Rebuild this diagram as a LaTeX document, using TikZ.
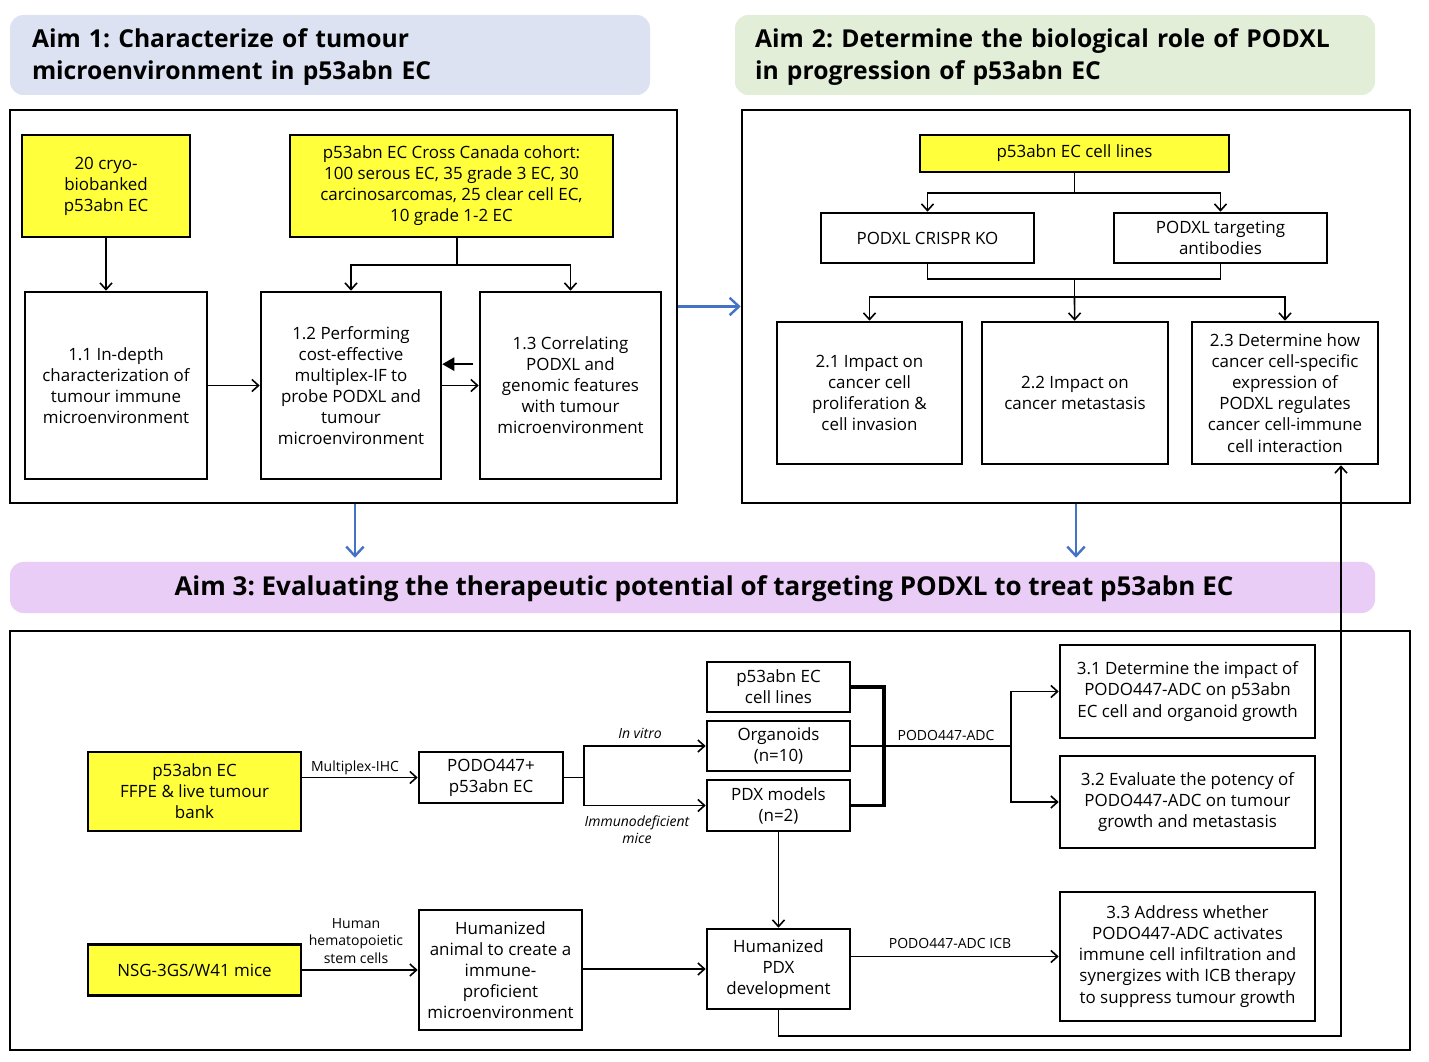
\documentclass[tikz,border=0pt]{standalone}
\usepackage{fontspec}
\setmainfont{Open Sans}
\usetikzlibrary{arrows.meta}
\definecolor{ylw}{HTML}{FFFF3C}
\definecolor{hdrblue}{HTML}{DCE2F2}
\definecolor{hdrgreen}{HTML}{E3EED9}
\definecolor{aimpurple}{HTML}{EACDF6}
\definecolor{arrblue}{HTML}{4472C4}
\frenchspacing
\begin{document}
\begin{tikzpicture}[x=0.75pt,y=-0.75pt,
  box/.style={draw, line width=1.9pt, fill=white, align=center, inner sep=0pt, font=\fontsize{12.7}{15.8}\selectfont},
  ybox/.style={box, fill=ylw},
  frame/.style={draw, line width=1.9pt, inner sep=0pt},
  hdr/.style={rounded corners=10pt, inner ysep=0pt, align=left, font=\fontsize{18.5}{24}\selectfont\bfseries},
  conn/.style={line width=1.2pt},
  arr/.style={conn, -{Straight Barb[length=5pt,width=9pt]}},
  backarr/.style={conn, -{Triangle[length=9pt,width=10pt]}},
  lbl/.style={font=\fontsize{10.5}{13}\selectfont, inner sep=1pt, align=center},
  ilbl/.style={font=\fontsize{10.5}{13}\selectfont\itshape, inner sep=1pt, align=center},
  bluearr/.style={draw=arrblue, line width=1.8pt, -{Straight Barb[length=7pt,width=13pt]}},
  thickline/.style={line width=2.4pt}
]
\useasboundingbox (0,0) rectangle (1429,1062);

% headers
\node[hdr, fill=hdrblue, minimum width=640*.75pt, minimum height=80*.75pt, text width=596*.75pt, inner xsep=22*.75pt] (aim1) at (330,55) {\strut Aim 1: Characterize of tumour\\microenvironment in p53abn EC};
\node[hdr, fill=hdrgreen, minimum width=640*.75pt, minimum height=80*.75pt, text width=600*.75pt, inner xsep=20*.75pt] (aim2) at (1055,55) {\strut Aim 2: Determine the biological role of PODXL\\in progression of p53abn EC};

% frames
\node[frame, minimum width=667*.75pt, minimum height=393*.75pt] (f1) at (343.5,306.5) {};
\node[frame, minimum width=668*.75pt, minimum height=393*.75pt] (f2) at (1076,306.5) {};
\node[frame, minimum width=1400*.75pt, minimum height=419*.75pt] (f3) at (710,840.5) {};

% aim 3 banner
\node[fill=aimpurple, rounded corners=10pt, minimum width=1365*.75pt, minimum height=51*.75pt, inner sep=0pt] (aim3) at (692.5,587.5) {};
\node[font=\fontsize{19.5}{24}\selectfont\bfseries, inner sep=0pt] (aim3t) at (704,589) {Aim 3: Evaluating the therapeutic potential of targeting PODXL to treat p53abn EC};

% ---- Aim 1 contents
\node[ybox, minimum width=168*.75pt, minimum height=102*.75pt] (cryo) at (106,186) {20 cryo-\\biobanked\\p53abn EC};
\node[ybox, minimum width=323*.75pt, minimum height=102*.75pt] (cohort) at (451.5,186) {p53abn EC Cross Canada cohort:\\100 serous EC, 35 grade 3 EC, 30\\carcinosarcomas, 25 clear cell EC,\\10 grade 1-2 EC};
\node[box, minimum width=182*.75pt, minimum height=187*.75pt] (b11) at (116,385.5) {1.1 In-depth\\characterization of\\tumour immune\\microenvironment};
\node[box, minimum width=180*.75pt, minimum height=187*.75pt] (b12) at (351,385.5) {1.2 Performing\\cost-effective\\multiplex-IF to\\probe PODXL and\\tumour\\microenvironment};
\node[box, minimum width=181*.75pt, minimum height=187*.75pt] (b13) at (570.5,385.5) {1.3 Correlating\\PODXL and\\genomic features\\with tumour\\microenvironment};

\draw[arr] (cryo.south) -- (cryo.south |- b11.north);
\coordinate (j1) at (457,265);
\draw[conn] (cohort.south -| j1) -- (j1);
\draw[arr] (j1) -| (b12);
\draw[arr] (j1) -| (b13);
\draw[arr] (b11.east) -- (b12.west);
\draw[arr] (b12.east) -- (b13.west);
\draw[backarr] ([yshift=16pt, xshift=-4pt]b13.west) -- ([yshift=16pt]b12.east);

% ---- Aim 2 contents
\node[ybox, minimum width=309*.75pt, minimum height=37*.75pt] (cl) at (1074.5,153.5) {p53abn EC cell lines};
\node[box, minimum width=213*.75pt, minimum height=50*.75pt] (crispr) at (927.5,238) {PODXL CRISPR KO};
\node[box, minimum width=213*.75pt, minimum height=50*.75pt] (abs) at (1220.5,238) {PODXL targeting\\antibodies};
\node[box, minimum width=185*.75pt, minimum height=142*.75pt] (b21) at (869.5,393) {2.1 Impact on\\cancer cell\\proliferation \&\\cell invasion};
\node[box, minimum width=186*.75pt, minimum height=142*.75pt] (b22) at (1075,393) {2.2 Impact on\\cancer metastasis};
\node[box, minimum width=186*.75pt, minimum height=142*.75pt] (b23) at (1285,393) {2.3 Determine how\\cancer cell-specific\\expression of\\PODXL regulates\\cancer cell-immune\\cell interaction};

\coordinate (j2) at (1074.5,193);
\coordinate (j3) at (1074.5,279);
\coordinate (j4) at (1074.5,297);
\draw[conn] (cl.south) -- (j2);
\draw[arr] (j2) -| (crispr);
\draw[arr] (j2) -| (abs);
\draw[conn] (crispr.south) |- (j3) -| (abs.south);
\draw[conn] (j3) -- (j4);
\draw[arr] (j4) -| (b21);
\draw[arr] (j4) -| (b23);
\draw[arr] (j4) -- (b22);

% blue arrows
\draw[bluearr] (f1.east) -- (f2.west);
\draw[bluearr, shorten >=3pt] ([xshift=8.6pt]f1.south) -- ([xshift=8.6pt]f1.south |- aim3.north);
\draw[bluearr, shorten >=3pt] (f2.south) -- (f2.south |- aim3.north);

% ---- Aim 3 contents
\node[ybox, minimum width=213*.75pt, minimum height=79*.75pt] (ffpe) at (194.5,791.5) {p53abn EC\\FFPE \& live tumour\\bank};
\node[box, minimum width=144*.75pt, minimum height=51*.75pt] (podo) at (491,777.5) {PODO447+\\p53abn EC};
\node[box, minimum width=143*.75pt, minimum height=50*.75pt] (cells) at (778.5,687) {p53abn EC\\cell lines};
\node[box, minimum width=143*.75pt, minimum height=50*.75pt] (org) at (778.5,746) {Organoids\\(n=10)};
\node[box, minimum width=143*.75pt, minimum height=51*.75pt] (pdx) at (778.5,805.5) {PDX models\\(n=2)};
\node[box, minimum width=255*.75pt, minimum height=93*.75pt] (b31) at (1187.5,691.5) {3.1 Determine the impact of\\PODO447-ADC on p53abn\\EC cell and organoid growth};
\node[box, minimum width=255*.75pt, minimum height=92*.75pt] (b32) at (1187.5,802) {3.2 Evaluate the potency of\\PODO447-ADC on tumour\\growth and metastasis};
\node[box, minimum width=255*.75pt, minimum height=129*.75pt] (b33) at (1187.5,956.5) {3.3 Address whether\\PODO447-ADC activates\\immune cell infiltration and\\synergizes with ICB therapy\\to suppress tumour growth};
\node[ybox, minimum width=213*.75pt, minimum height=51*.75pt] (nsg) at (194.5,970) {NSG-3GS/W41 mice};
\node[box, minimum width=163*.75pt, minimum height=120*.75pt] (hum) at (500.5,970) {Humanized\\animal to create a\\immune-\\proficient\\microenvironment};
\node[box, minimum width=143*.75pt, minimum height=80*.75pt] (hpdx) at (778.5,969) {Humanized\\PDX\\development};

\draw[arr] (ffpe.east |- podo.west) -- (podo.west);
\node[lbl] (lmihc) at (355,768) {Multiplex-IHC};
\coordinate (j5) at (584,777.5);
\draw[conn] (podo.east) -- (j5);
\draw[arr] (j5) |- (org.west);
\draw[arr] (j5) |- (pdx.west);
\node[ilbl] (lvitro) at (640,733) {In vitro};
\node[ilbl] (limmu) at (637,830) {Immunodeficient\\mice};

\coordinate (j6) at (884,746);
\draw[thickline] (cells.east) -| (j6) |- (pdx.east);
\coordinate (j7) at (1011,746);
\draw[conn] (org.east) -- (j7);
\node[lbl] (ladc) at (946,735) {PODO447-ADC};
\draw[arr] (j7) |- (b31.west);
\draw[arr] (j7) |- (b32.west);

\draw[arr] (nsg.east) -- (hum.west);
\node[lbl] (lhsc) at (356,941) {Human\\hematopoietic\\stem cells};
\draw[arr] (hum.east |- hpdx.west) -- (hpdx.west);
\draw[arr] (pdx.south) -- (hpdx.north);
\draw[arr] (hpdx.east |- b33.west) -- (b33.west);
\node[lbl] (licb) at (950,943) {PODO447-ADC ICB};

\coordinate (j8) at (1341,1036);
\draw[arr] (hpdx.south) |- (j8) -- (j8 |- b23.south);
\end{tikzpicture}
\end{document}
